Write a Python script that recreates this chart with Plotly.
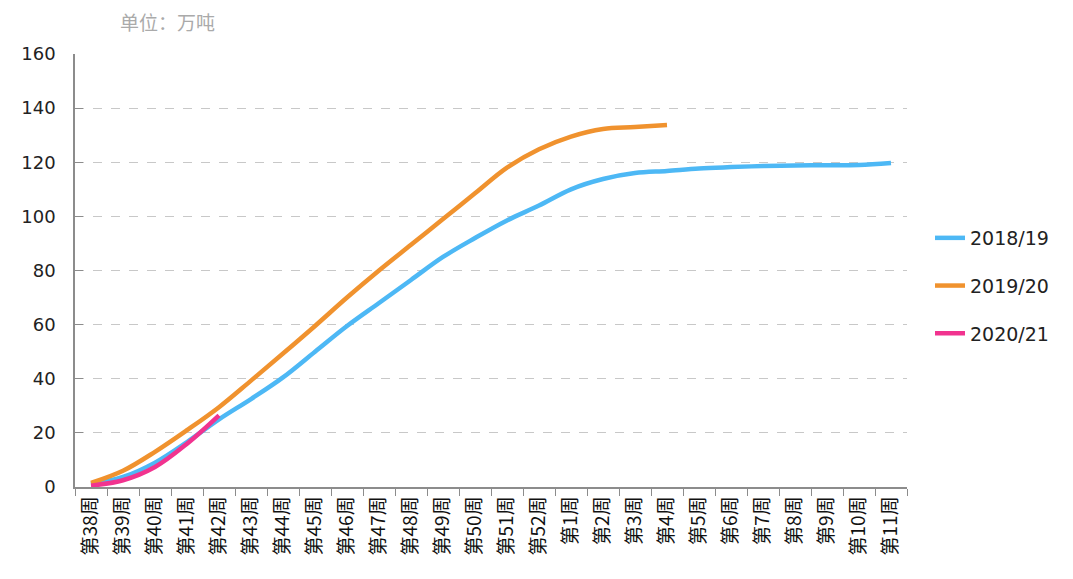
import plotly.graph_objects as go

weeks = [f"第{w}周" for w in list(range(38, 53)) + list(range(1, 12))]

s1819 = [1, 3.7, 9, 16.6, 25, 32.5, 40.5, 50, 59.5, 68, 76.5, 85, 92, 98.5, 104, 110, 113.8, 116, 116.8, 117.7, 118.2, 118.6, 118.8, 118.9, 119, 119.7]
s1920 = [1.5, 6, 13, 21, 29.5, 39.3, 49.3, 59.5, 70, 80, 89.5, 99, 108.5, 118, 124.8, 129.5, 132.3, 133, 133.8]
s2021 = [0.5, 2.5, 7.4, 16, 26.5]

series = [
    ("2018/19", s1819, "#4DB8F5"),
    ("2019/20", s1920, "#F0922E"),
    ("2020/21", s2021, "#F1338F"),
]

L, R, T, B = 75, 166, 54, 92
W, H = 1073, 579

fig = go.Figure()
for i, (name, vals, color) in enumerate(series):
    fig.add_trace(go.Scatter(
        x=weeks[:len(vals)], y=vals, name=name, mode="lines",
        line=dict(color=color, width=4.5, shape="spline", smoothing=1.0),
        legendgroup=f"g{i}",
    ))

fig.update_layout(
    width=W, height=H,
    margin=dict(l=L, r=R, t=T, b=B),
    paper_bgcolor="white", plot_bgcolor="white",
    font=dict(family="DejaVu Sans, Noto Sans CJK SC", color="#222222"),
    showlegend=True,
    legend=dict(x=(930 - L) / (W - L - R) , y=(H - B - 286) / (H - T - B),
                xanchor="left", yanchor="middle",
                font=dict(size=19, color="#222222"), tracegroupgap=20,
                bgcolor="rgba(0,0,0,0)"),
    annotations=[dict(text="单位：万吨",
                      x=(118 - L) / (W - L - R), y=1 + (T - 22) / (H - T - B),
                      xref="paper", yref="paper",
                      showarrow=False, font=dict(size=19, color="#AAAAAA",
                      family="Noto Sans CJK SC"), xanchor="left", yanchor="middle")],
)

fig.update_xaxes(
    type="category", categoryorder="array", categoryarray=weeks,
    range=[-0.5, len(weeks) - 0.5],
    tickson="boundaries", ticks="outside", ticklen=7, tickcolor="#8C8C8C",
    showline=True, linecolor="#8C8C8C", linewidth=1.5,
    showgrid=False, tickangle=-90,
    tickfont=dict(size=19, family="Noto Sans CJK SC", color="#111111"),
)
fig.update_yaxes(
    range=[0, 160], dtick=20, tick0=0,
    showline=True, linecolor="#8C8C8C", linewidth=1.5,
    ticks="inside", ticklen=8, tickcolor="#8C8C8C",
    ticklabelstandoff=14,
    showgrid=True, gridcolor="#C8C8C8", griddash="dash", gridwidth=1,
    zeroline=False,
    tickfont=dict(size=18, color="#222222"),
)

fig.write_html("out.html")
